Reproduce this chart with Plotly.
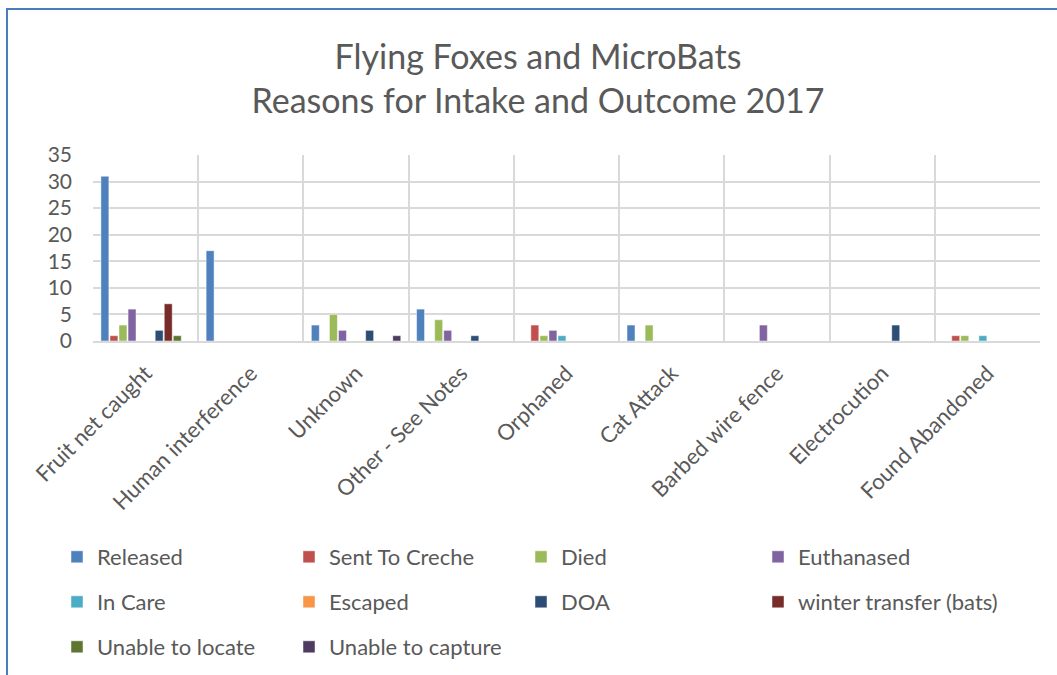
import plotly.graph_objects as go

categories = ["Fruit net caught", "Human interference", "Unknown", "Other - See Notes",
              "Orphaned", "Cat Attack", "Barbed wire fence", "Electrocution", "Found Abandoned"]

released          = [31, 17, 3, 6, 0, 3, 0, 0, 0]
sent_to_creche    = [1, 0, 0, 0, 3, 0, 0, 0, 1]
died              = [3, 0, 5, 4, 1, 3, 0, 0, 1]
euthanased        = [6, 0, 2, 2, 2, 0, 3, 0, 0]
in_care           = [0, 0, 0, 0, 1, 0, 0, 0, 1]
escaped           = [0, 0, 0, 0, 0, 0, 0, 0, 0]
doa               = [2, 0, 2, 1, 0, 0, 0, 3, 0]
winter_transfer   = [7, 0, 0, 0, 0, 0, 0, 0, 0]
unable_to_locate  = [1, 0, 0, 0, 0, 0, 0, 0, 0]
unable_to_capture = [0, 0, 1, 0, 0, 0, 0, 0, 0]

series = [
    ("Released", released, "#4F81BD"),
    ("Sent To Creche", sent_to_creche, "#C0504D"),
    ("Died", died, "#9BBB59"),
    ("Euthanased", euthanased, "#8064A2"),
    ("In Care", in_care, "#4BACC6"),
    ("Escaped", escaped, "#F79646"),
    ("DOA", doa, "#2C4D75"),
    ("winter transfer (bats)", winter_transfer, "#772C2A"),
    ("Unable to locate", unable_to_locate, "#5F7530"),
    ("Unable to capture", unable_to_capture, "#4D3B62"),
]

FONT = "Lato"
GREY = "#595959"

# legend layout: rows of three legend columns, plus a separate legend for each 4th-column item
legend_ids = ["legend", "legend", "legend", "legend4",
              "legend2", "legend2", "legend2", "legend5",
              "legend3", "legend3"]

fig = go.Figure()
for (name, vals, color), lg in zip(series, legend_ids):
    fig.add_trace(go.Bar(
        name=name, x=categories, y=[v if v else None for v in vals],
        marker=dict(color=color, line=dict(color="rgba(255,255,255,0.6)", width=0.8)),
        legend=lg,
    ))

W, H = 1057, 675
L, R, T, B = 93, 17, 155, 334
pw = W - L - R
ph = H - T - B

def px_x(x):
    return (x - L) / pw

def px_y(y):
    return (H - B - y) / ph

leg_common = dict(orientation="h", font=dict(family=FONT, size=22, color=GREY),
                  entrywidth=187, entrywidthmode="pixels", xanchor="left", yanchor="middle",
                  bgcolor="rgba(0,0,0,0)", itemclick=False, traceorder="normal")
leg_single = dict(orientation="h", font=dict(family=FONT, size=22, color=GREY),
                  xanchor="left", yanchor="middle",
                  bgcolor="rgba(0,0,0,0)", itemclick=False)

row_y = [557, 602, 647]
col4_x = 758

fig.update_layout(
    width=W, height=H,
    margin=dict(l=L, r=R, t=T, b=B, autoexpand=False),
    paper_bgcolor="white", plot_bgcolor="white",
    barmode="group", bargap=0.14, bargroupgap=0.12,
    font=dict(family=FONT, color=GREY),
    title=dict(text="Flying Foxes and MicroBats<br>Reasons for Intake and Outcome 2017",
               x=538 / W, xanchor="center", y=1 - 69 / H, yanchor="middle",
               font=dict(family=FONT, size=34, color=GREY)),
    legend=dict(x=px_x(57), y=px_y(row_y[0]), **leg_common),
    legend2=dict(x=px_x(57), y=px_y(row_y[1]), **leg_common),
    legend3=dict(x=px_x(57), y=px_y(row_y[2]), **leg_common),
    legend4=dict(x=px_x(col4_x), y=px_y(row_y[0]), **leg_single),
    legend5=dict(x=px_x(col4_x), y=px_y(row_y[1]), **leg_single),
    xaxis=dict(type="category", tickson="boundaries", showgrid=True, gridcolor="#D9D9D9",
               gridwidth=1.5, tickangle=-45, ticks="", showline=True, linecolor="#D9D9D9",
               linewidth=1.5, mirror=False, ticklabelstandoff=9,
               tickfont=dict(family=FONT, size=22, color=GREY)),
    yaxis=dict(range=[0, 35], dtick=5, showgrid=True, gridcolor="#D9D9D9", gridwidth=1.5,
               ticks="", zeroline=False, ticklabelstandoff=20,
               tickfont=dict(family=FONT, size=21, color=GREY)),
    shapes=[dict(type="rect", xref="paper", yref="paper",
                 x0=px_x(7), x1=px_x(1070), y0=px_y(690), y1=px_y(9),
                 line=dict(color="#4A7EBB", width=2), fillcolor="rgba(0,0,0,0)", layer="below")],
)

fig.write_html("out.html")
